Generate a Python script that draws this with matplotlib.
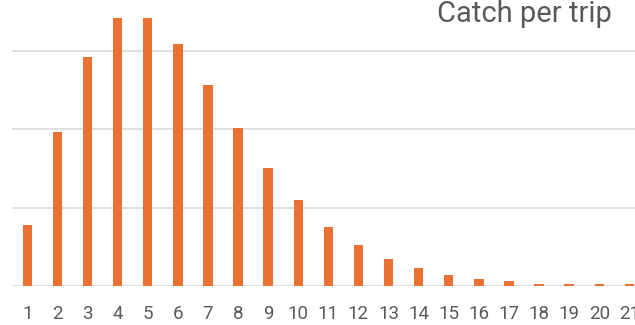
import matplotlib
matplotlib.use("Agg")
import matplotlib.pyplot as plt

# Share of trips (%) by number of fish caught per trip
catch = list(range(1, 22))
share_pct = [3.09, 7.83, 11.68, 13.64, 13.64, 12.33, 10.26, 8.07, 6.00, 4.36,
             3.02, 2.07, 1.36, 0.90, 0.58, 0.34, 0.26, 0.10, 0.10, 0.10, 0.10]
tick_labels = [str(c) for c in catch]

BAR = "#E97132"
GRID = "#D9D9D9"
TEXT = "#595959"

plt.rcParams["font.family"] = ["Roboto", "DejaVu Sans"]

W, H = 635, 325
fig = plt.figure(figsize=(W / 100, H / 100), dpi=100)

# Plot area: starts half a category left of bar 1, runs past the right edge
left_px, base_px, step_px = 12.3, 286.0, 30.1
ax = fig.add_axes([left_px / W, (H - base_px) / H, 21 * step_px / W, base_px / H])

ax.bar(catch, share_pct, width=0.31, color=BAR, zorder=3)

ax.set_xlim(0.5, 21.5)
ax.set_ylim(0, base_px / 78.5 * 4)
ax.set_yticks([0, 4, 8, 12])
ax.yaxis.grid(True, color=GRID, linewidth=1.2, zorder=0)
ax.tick_params(axis="y", left=False, labelleft=False)
ax.set_xticks(catch)
ax.set_xticklabels(tick_labels, fontsize=13.5, color=TEXT)
ax.tick_params(axis="x", length=0, pad=14)
for side in ("top", "right", "left", "bottom"):
    ax.spines[side].set_visible(False)

fig.text(524 / W, 1 - 14 / H, "Catch per trip", fontsize=21, color=TEXT,
         ha="center", va="center")

fig.savefig("out.png", dpi=100)
